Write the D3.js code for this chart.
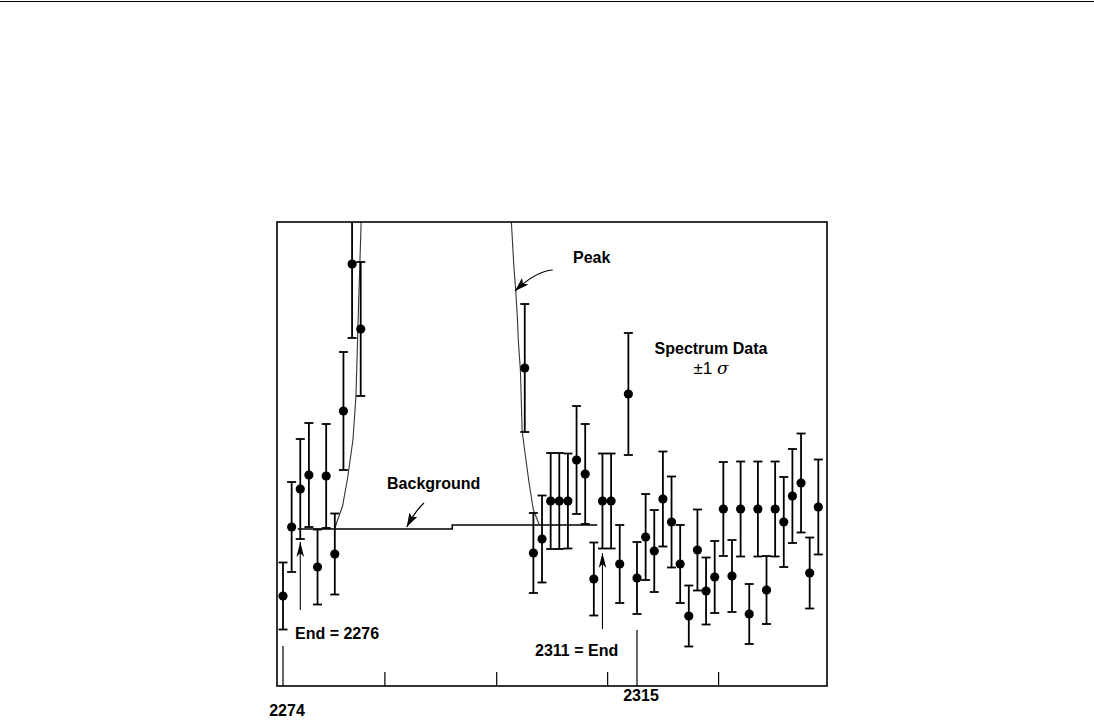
<!DOCTYPE html>
<html><head><meta charset="utf-8">
<script src="https://cdn.jsdelivr.net/npm/d3@7"></script>
<style>body{margin:0;background:#fff} svg{display:block}</style>
</head><body>
<svg id="chart" width="1094" height="727"></svg>
<script>
// ---- data (y in arbitrary count units) ----
const channels = [2274,2275,2276,2277,2278,2279,2280,2281,2282,2283,
  2302,2303,2304,2305,2306,2307,2308,2309,2310,2311,2312,2313,2314,2315,2316,2317,2318,2319,
  2320,2321,2322,2323,2324,2325,2326,2327,2328,2329,2330,2331,2332,2333,2334,2335,2336];
const counts = [90,159,197,211,119,210,132,275,422,357,
  318,133,147,185,185,185,226,212,107,185,185,122,292,108,149,135,187,164,
  122,70,136,95,109,177,110,177,72,177,96,177,164,190,203,113,179];
const sigmas = [33.5,45,50,52,37.5,52,40.5,59,74,67,
  64,40,43.5,48,48,47.5,54,50,36.5,47.5,47.5,39,61,36,43,41,47.5,45.5,
  39,30.5,40.5,33.5,36,47,36,47.5,30,47.5,34,47.5,45,47,49.5,35.5,47.5];

// fitted peak shape (both flanks, top is off scale)
const peakLeftCh  = [2280.0,2280.2,2280.9,2281.5,2282.1,2282.45,2282.75,2283.05,2283.2];
const peakLeftVal = [157,163,180,209,246,290,380,464,520];
const peakRightCh  = [2300.3,2300.45,2300.75,2300.95,2301.15,2301.25,2301.5,2301.7,2302.0,2302.5,2303.0,2303.7];
const peakRightVal = [520,464,418,396,368,346,315,255,235,203,176,161];

// background under the peak
const bgCh  = [2275.7,2293.6,2293.6,2310.4];
const bgVal = [157,157,161,161];

// region end markers
const endChannels = [2276, 2311];
const endFrom = [76, 57];
const endTo = [144, 133];

// axis ticks
const minorTicks = [2285.8, 2298.75, 2311.6, 2324.45];
const labeledTicks = [2274, 2315];
const labeledTickText = ["2274", "2315"];

// ---- drawing ----
const svg = d3.select("#chart");
const L = 277, R = 827, T = 222, B = 686;
const x = d3.scaleLinear().domain([2273.305, 2337.006]).range([L, R]);
const y = d3.scaleLinear().domain([0, 464]).range([B, T]);
const FONT = "'Liberation Sans', Arial, Helvetica, sans-serif";

// page rule at top
svg.append("line").attr("x1",0).attr("x2",1094).attr("y1",1.5).attr("y2",1.5)
  .attr("stroke","#000").attr("stroke-width",1);

svg.append("defs").append("clipPath").attr("id","plotclip")
  .append("rect").attr("x",L).attr("y",T).attr("width",R-L).attr("height",B-T);

const defs = svg.select("defs");
defs.append("marker").attr("id","headA").attr("viewBox","0 -5 14 10")
  .attr("refX",14).attr("refY",0).attr("markerWidth",14).attr("markerHeight",10)
  .attr("markerUnits","userSpaceOnUse").attr("orient","auto")
  .append("path").attr("d","M0,-4.5L14,0L0,4.5L3,0Z").attr("fill","#000");
defs.append("marker").attr("id","headB").attr("viewBox","0 -4 15 8")
  .attr("refX",15).attr("refY",0).attr("markerWidth",15).attr("markerHeight",8)
  .attr("markerUnits","userSpaceOnUse").attr("orient","auto")
  .append("path").attr("d","M0,-3.8L15,0L0,3.8L4,0Z").attr("fill","#000");

const g = svg.append("g").attr("clip-path","url(#plotclip)");

// background line
g.append("path").datum(bgCh.map((c,i)=>[c,bgVal[i]]))
  .attr("d", d3.line().x(d=>x(d[0])).y(d=>y(d[1])))
  .attr("fill","none").attr("stroke","#000").attr("stroke-width",1.6);

// peak flanks
[[peakLeftCh,peakLeftVal],[peakRightCh,peakRightVal]].forEach(([cs,vs])=>{
  g.append("path").datum(cs.map((c,i)=>[c,vs[i]]))
    .attr("d", d3.line().x(d=>x(d[0])).y(d=>y(d[1])))
    .attr("fill","none").attr("stroke","#333").attr("stroke-width",1.1);
});

// error bars + points
const pts = channels.map((c,i)=>({c, v:counts[i], s:sigmas[i]}));
const cap = 4.5;
const eb = g.selectAll("g.eb").data(pts).enter().append("g").attr("class","eb");
eb.append("line").attr("x1",d=>x(d.c)).attr("x2",d=>x(d.c))
  .attr("y1",d=>y(d.v+d.s)).attr("y2",d=>y(d.v-d.s))
  .attr("stroke","#000").attr("stroke-width",1.8);
eb.append("line").attr("x1",d=>x(d.c)-cap).attr("x2",d=>x(d.c)+cap)
  .attr("y1",d=>y(d.v+d.s)).attr("y2",d=>y(d.v+d.s))
  .attr("stroke","#000").attr("stroke-width",1.8);
eb.append("line").attr("x1",d=>x(d.c)-cap).attr("x2",d=>x(d.c)+cap)
  .attr("y1",d=>y(d.v-d.s)).attr("y2",d=>y(d.v-d.s))
  .attr("stroke","#000").attr("stroke-width",1.8);
eb.append("circle").attr("cx",d=>x(d.c)).attr("cy",d=>y(d.v)).attr("r",4.6).attr("fill","#000");

// end markers (vertical arrows)
endChannels.forEach((c,i)=>{
  svg.append("line").attr("x1",x(c)).attr("x2",x(c))
    .attr("y1",y(endFrom[i])).attr("y2",y(endTo[i]))
    .attr("stroke","#000").attr("stroke-width",1.1).attr("marker-end","url(#headB)");
});

// frame
svg.append("rect").attr("x",L).attr("y",T).attr("width",R-L).attr("height",B-T)
  .attr("fill","none").attr("stroke","#000").attr("stroke-width",1.6);

// bottom ticks
minorTicks.forEach(t=>{
  svg.append("line").attr("x1",x(t)).attr("x2",x(t)).attr("y1",B).attr("y2",B-14)
    .attr("stroke","#000").attr("stroke-width",1.2);
});
const majorLen = [40, 56];
const labelDy = [30, 15];
labeledTicks.forEach((t,i)=>{
  svg.append("line").attr("x1",x(t)).attr("x2",x(t)).attr("y1",B).attr("y2",B-majorLen[i])
    .attr("stroke","#000").attr("stroke-width",1.2);
  svg.append("text").attr("x",x(t)+4).attr("y",B+labelDy[i]).attr("text-anchor","middle")
    .attr("font-family",FONT).attr("font-weight","bold").attr("font-size",16)
    .text(labeledTickText[i]);
});

// curved annotation arrows (positions in data units)
function curveArrow(p0,p1,p2){
  const p = d3.path();
  p.moveTo(x(p0[0]),y(p0[1]));
  p.quadraticCurveTo(x(p1[0]),y(p1[1]),x(p2[0]),y(p2[1]));
  svg.append("path").attr("d",p.toString()).attr("fill","none")
    .attr("stroke","#000").attr("stroke-width",1.2).attr("marker-end","url(#headA)");
}
curveArrow([2305.24,416],[2303.3,415],[2300.87,395]);
curveArrow([2290.33,183],[2289.4,176],[2288.33,159]);

// labels
function label(txt, c, v, anchor, weight){
  return svg.append("text").attr("x",x(c)).attr("y",y(v)).attr("text-anchor",anchor||"start")
    .attr("font-family",FONT).attr("font-weight",weight||"bold").attr("font-size",16).text(txt);
}
label("Peak", 2307.59, 423);
label("Spectrum Data", 2323.57, 332, "middle");
const pm = svg.append("text").attr("x",x(2323.57)).attr("y",y(312)).attr("text-anchor","middle")
  .attr("font-family",FONT).attr("font-size",17);
pm.append("tspan").text("\u00b11 ");
pm.append("tspan").attr("font-style","italic").attr("font-family","'DejaVu Serif', serif").text("\u03c3");
label("Background", 2286.05, 197);
label("End = 2276", 2275.39, 47);
label("2311 = End", 2303.19, 30);
</script>
</body></html>
